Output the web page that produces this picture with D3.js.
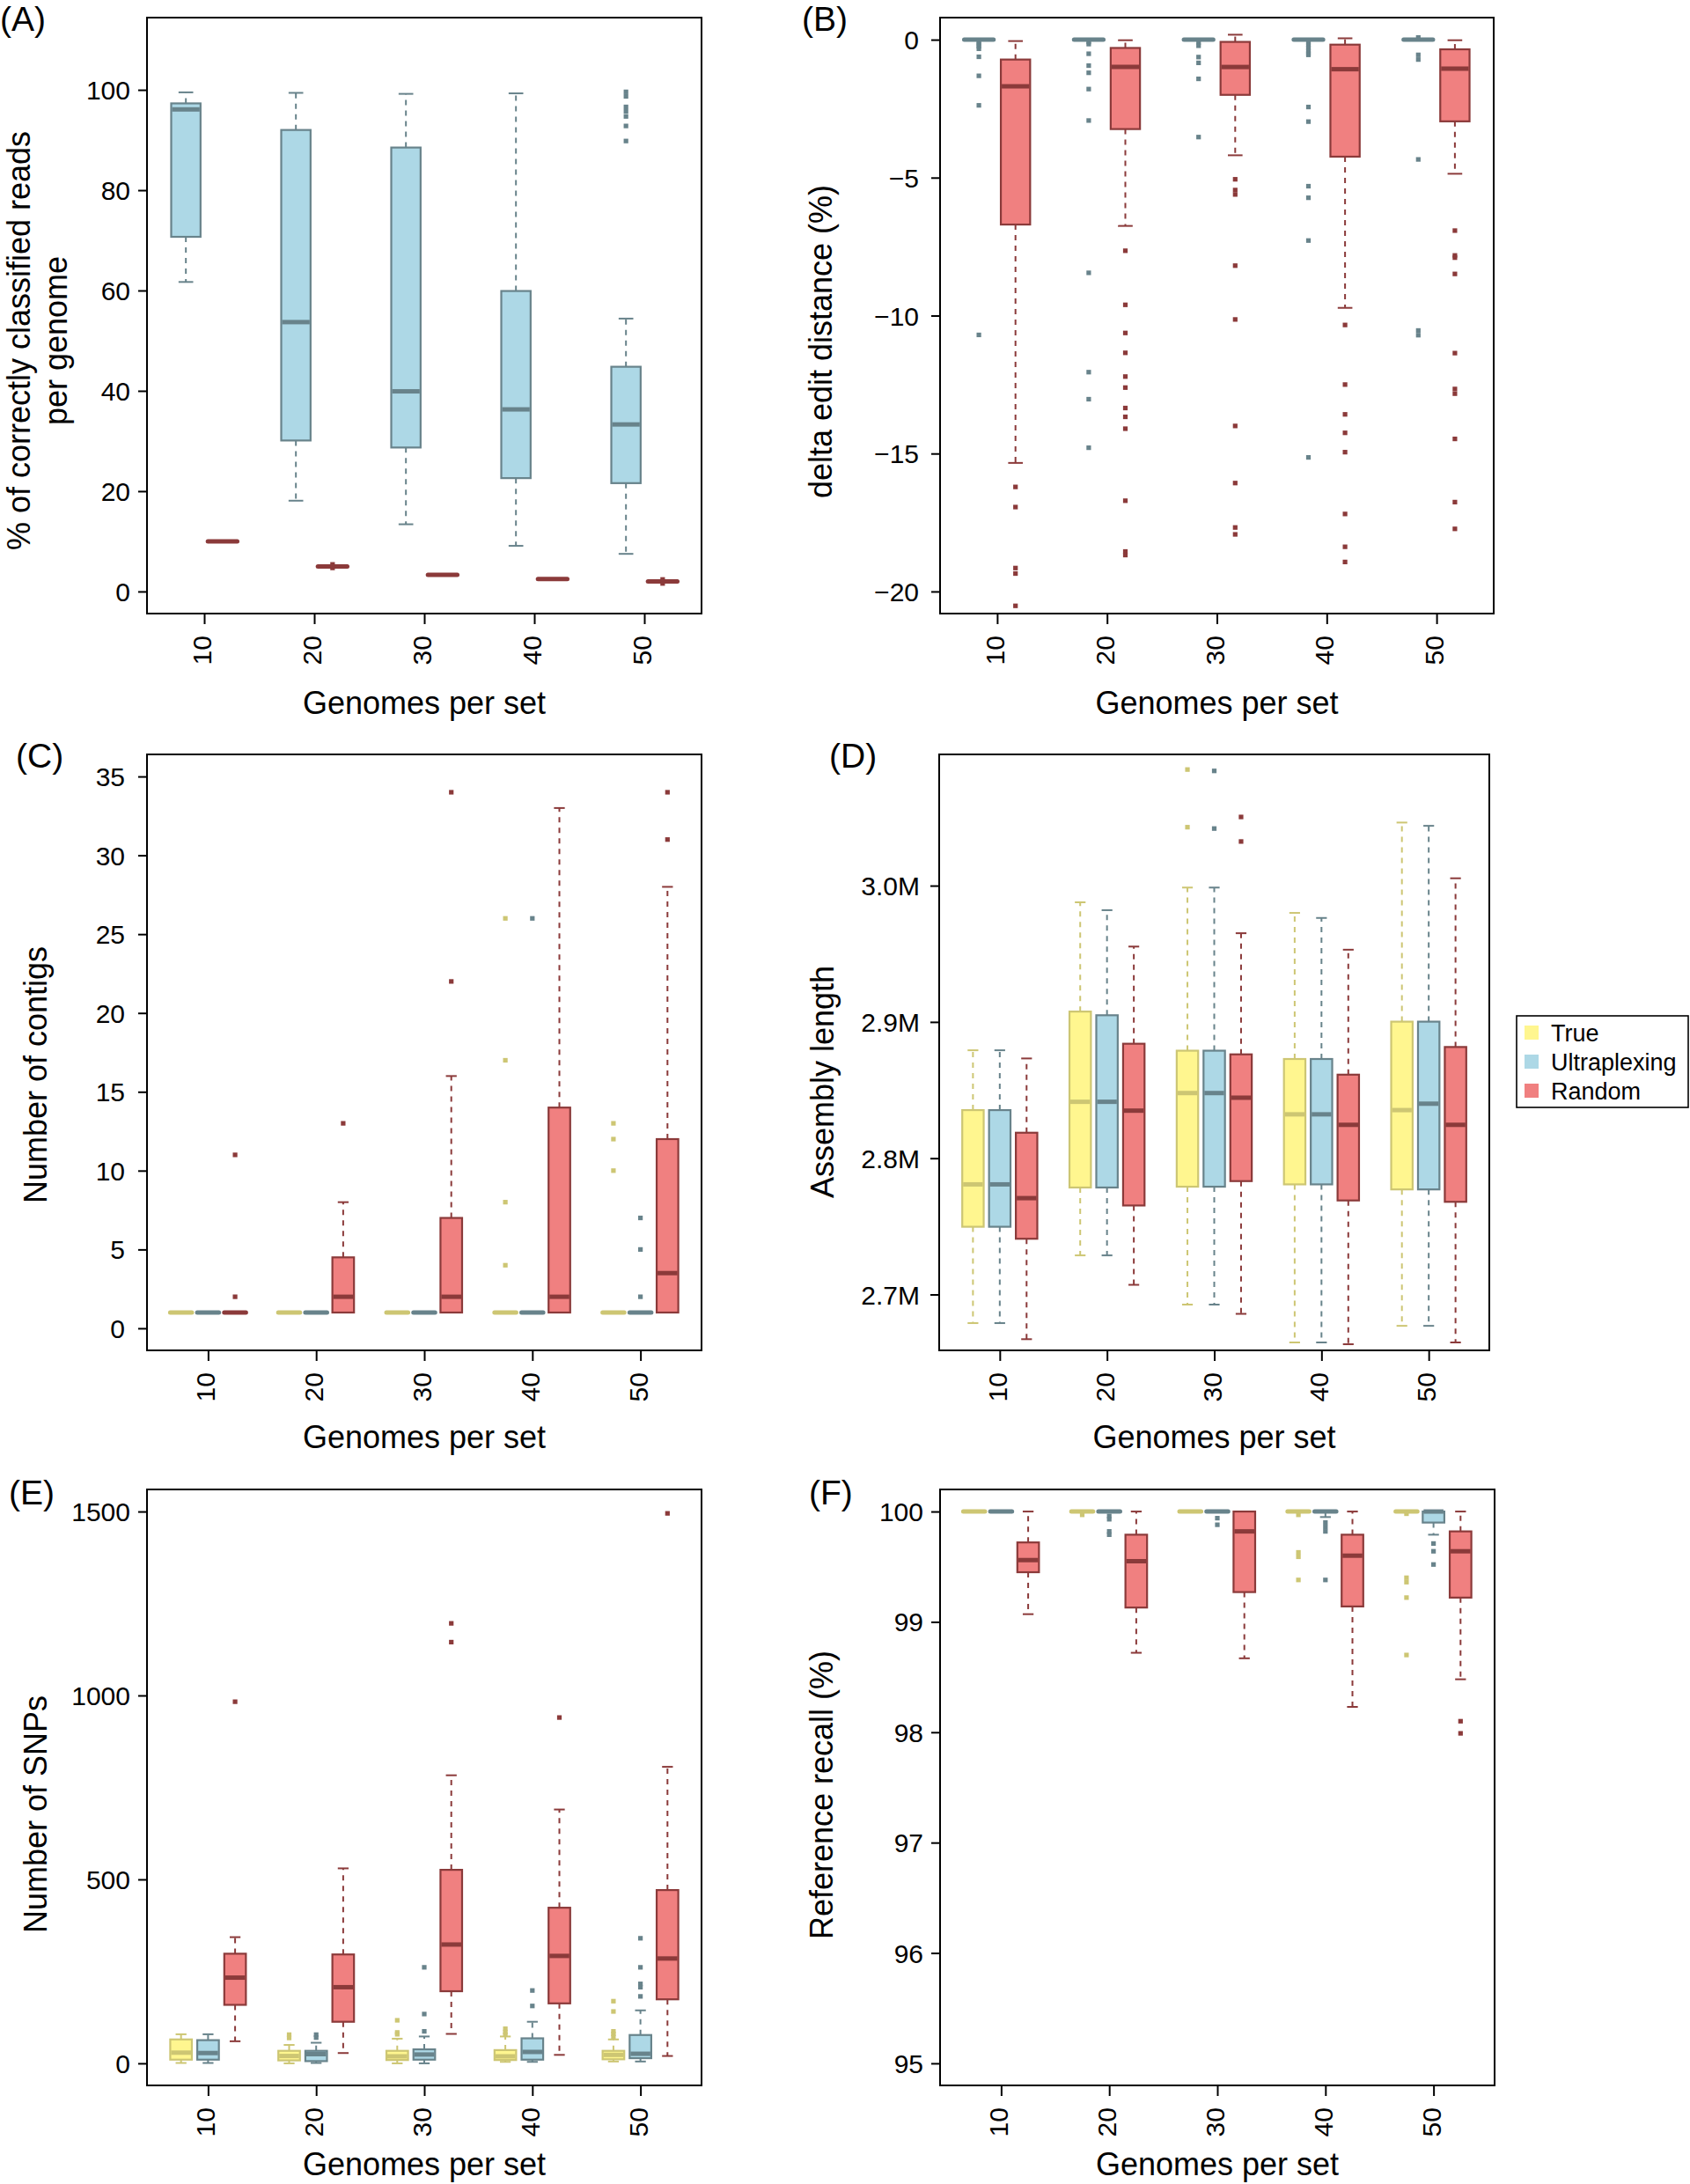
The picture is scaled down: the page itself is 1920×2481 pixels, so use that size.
<!DOCTYPE html>
<html><head><meta charset="utf-8">
<script src="https://cdn.jsdelivr.net/npm/d3@7"></script>
<style>
body{margin:0;background:#fff}
svg{display:block}
text{font-family:"Liberation Sans",Arial,Helvetica,sans-serif;fill:#000}
</style>
</head><body>
<script>
// ---------- DATA ----------
// stats per category: [lower whisker, Q1, median, Q3, upper whisker]
const categories = ["10", "20", "30", "40", "50"];
const groupNames = ["True", "Ultraplexing", "Random"];

// (A) % correctly classified reads
const aUltraStats = [[61.7,70.7,96.1,97.3,99.5],[18.1,30.1,53.7,92.0,99.4],[13.4,28.7,39.9,88.5,99.2],[9.1,22.6,36.3,59.9,99.3],[7.5,21.6,33.3,44.8,54.4]];
const aUltraOut = [[],[],[],[],[99.6,98.7,96.6,95.7,94.7,92.8,89.8]];
const aRandomStats = [[10,10,10,10,10],[5,5,5,5,5],[3.33,3.33,3.33,3.33,3.33],[2.5,2.5,2.5,2.5,2.5],[2,2,2,2,2]];
const aRandomOut = [[],[5.4,4.7],[],[],[2.4,1.6]];

// (B) delta edit distance (%)
const bUltraStats = [[0,0,0,0,0],[0,0,0,0,0],[0,0,0,0,0],[0,0,0,0,0],[0,0,0,0,0]];
const bUltraOut = [
  [-0.08,-0.16,-0.24,-0.33,-0.62,-1.31,-2.38,-10.7],
  [-0.08,-0.16,-0.51,-0.94,-1.2,-1.79,-2.93,-8.45,-12.05,-13.03,-14.79],
  [-0.1,-0.22,-0.63,-0.84,-1.42,-3.53],
  [-0.1,-0.2,-0.3,-0.4,-0.5,-0.55,-2.44,-2.97,-5.31,-5.73,-7.28,-15.14],
  [0.08,-0.55,-0.72,-4.34,-10.54,-10.71]];
const bRandomStats = [[-15.34,-6.70,-1.69,-0.72,-0.05],[-6.75,-3.24,-0.99,-0.30,-0.02],[-4.19,-2.0,-0.99,-0.08,0.18],[-9.72,-4.24,-1.07,-0.18,0.05],[-4.86,-2.96,-1.05,-0.35,-0.02]];
const bRandomOut = [
  [-16.21,-16.94,-19.15,-19.35,-20.52],
  [-7.65,-9.61,-10.63,-11.35,-12.21,-12.61,-13.35,-13.67,-14.1,-16.71,-18.55,-18.68],
  [-5.06,-5.45,-5.61,-8.19,-10.14,-14.0,-16.07,-17.68,-17.93],
  [-10.34,-12.5,-13.58,-14.25,-14.95,-17.19,-18.38,-18.93],
  [-6.92,-7.82,-7.9,-8.49,-11.36,-12.66,-12.83,-14.47,-16.76,-17.73]];

// (C) Number of contigs
const cTrueStats = [[1,1,1,1,1],[1,1,1,1,1],[1,1,1,1,1],[1,1,1,1,1],[1,1,1,1,1]];
const cTrueOut = [[],[],[],[26,17,8,4],[13,12,10]];
const cUltraStats = [[1,1,1,1,1],[1,1,1,1,1],[1,1,1,1,1],[1,1,1,1,1],[1,1,1,1,1]];
const cUltraOut = [[],[],[],[26],[7,5,2]];
const cRandomStats = [[1,1,1,1,1],[1,1,2,4.5,8],[1,1,2,7,16],[1,1,2,14,33],[1,1,3.5,12,28]];
const cRandomOut = [[11,2],[13],[22,34],[],[31,34]];

// (D) Assembly length (millions of bp)
const dTrueStats = [[2.679,2.7497,2.7808,2.8353,2.8792],[2.7287,2.7785,2.8414,2.9076,2.9878],[2.6926,2.7791,2.8478,2.8789,2.9986],[2.6648,2.7808,2.8322,2.8728,2.98],[2.677,2.7771,2.8353,2.9002,3.0463]];
const dTrueOut = [[],[],[3.0852,3.0429],[],[]];
const dUltraStats = [[2.679,2.7497,2.7808,2.8353,2.8792],[2.7287,2.7785,2.8414,2.9049,2.982],[2.6926,2.7791,2.8478,2.8789,2.9986],[2.6648,2.7808,2.8322,2.8728,2.9763],[2.677,2.7771,2.84,2.9002,3.0439]];
const dUltraOut = [[],[],[3.0842,3.0419],[],[]];
const dRandomStats = [[2.6672,2.7409,2.7707,2.8187,2.8732],[2.7071,2.7653,2.8349,2.884,2.9553],[2.6858,2.7832,2.8444,2.8762,2.9651],[2.6635,2.769,2.8245,2.8613,2.953],[2.6648,2.768,2.8245,2.8816,3.0054]];
const dRandomOut = [[],[],[3.0504,3.0324],[],[]];

// (E) Number of SNPs
const eTrueStats = [[1,10,29,65,79],[0,8,20,34,50],[0,9,19,34,67],[4,9,19,36,73],[5,11,23,34,65]];
const eTrueOut = [[],[78,69],[117,84,79],[94,85,78],[169,141,87,80,72]];
const eUltraStats = [[1,10,28,63,79],[1,6,25,34,56],[0,10,24,38,73],[4,10,31,68,113],[5,14,26,77,144]];
const eUltraOut = [[],[78,70],[261,134,87],[198,156],[340,261,216,207,182]];
const eRandomStats = [[60,159,233,298,343],[28,113,207,296,530],[80,196,323,526,783],[23,163,292,423,690],[20,174,285,471,806]];
const eRandomOut = [[983],[],[1196,1145],[940],[1495]];

// (F) Reference recall (%)
const fTrueStats = [[100,100,100,100,100],[100,100,100,100,100],[100,100,100,100,100],[100,100,100,100,100],[100,100,100,100,100]];
const fTrueOut = [[],[99.97],[],[99.97,99.63,99.59,99.38],[99.98,99.4,99.36,99.22,98.7]];
const fUltraStats = [[100,100,100,100,100],[100,100,100,100,100],[100,100,100,100,100],[99.95,100,100,100,100],[99.79,99.9,100,100,100]];
const fUltraOut = [[],[99.96,99.93,99.82,99.79],[99.94,99.88],[99.9,99.86,99.82,99.38],[99.71,99.64,99.52]];
const fRandomStats = [[99.07,99.45,99.56,99.72,100],[98.72,99.13,99.55,99.79,100],[98.67,99.27,99.82,100,100],[98.23,99.14,99.6,99.79,100],[98.48,99.22,99.64,99.82,100]];
const fRandomOut = [[],[],[],[],[98.1,97.99]];

// tick values
const aTicks = [0,20,40,60,80,100];
const bTicks = [0,-5,-10,-15,-20];
const cTicks = [0,5,10,15,20,25,30,35];
const dTicks = [2.7,2.8,2.9,3.0];
const eTicks = [0,500,1000,1500];
const fTicks = [95,96,97,98,99,100];

// ---------- STYLE ----------
const style = {
  "True": {fill:"#FFF68F", stroke:"#CDC673"},
  "Ultraplexing": {fill:"#ADD8E6", stroke:"#68838B"},
  "Random": {fill:"#F08080", stroke:"#8B3A3A"}
};

const panels = [
  {label:"(A)", lx:0, ly:35, box:[167,20,797,697], ylim:[-4.4,114.4], ticks:aTicks, fmt:d3.format("d"), ypad:9,
   series:[["Ultraplexing",aUltraStats,aUltraOut],["Random",aRandomStats,aRandomOut]],
   ytitle:["% of correctly classified reads","per genome"], ytx:[34,76], yty:387, xty:811},
  {label:"(B)", lx:911, ly:35, box:[1068,20,1697,697], ylim:[-20.8,0.8], ticks:bTicks, fmt:d3.format("d"), ypad:14,
   series:[["Ultraplexing",bUltraStats,bUltraOut],["Random",bRandomStats,bRandomOut]],
   ytitle:["delta edit distance (%)"], ytx:[945], yty:388, xty:811},
  {label:"(C)", lx:18, ly:872, box:[167,857,797,1534], ylim:[-1.4,36.4], ticks:cTicks, fmt:d3.format("d"), ypad:15,
   series:[["True",cTrueStats,cTrueOut],["Ultraplexing",cUltraStats,cUltraOut],["Random",cRandomStats,cRandomOut]],
   ytitle:["Number of contigs"], ytx:[53], yty:1221, xty:1645},
  {label:"(D)", lx:942, ly:872, box:[1067,857,1692,1534], ylim:[2.659,3.0963], ticks:dTicks, fmt:d=>d.toFixed(1)+"M", ypad:12,
   series:[["True",dTrueStats,dTrueOut],["Ultraplexing",dUltraStats,dUltraOut],["Random",dRandomStats,dRandomOut]],
   ytitle:["Assembly length"], ytx:[947], yty:1229, xty:1645, legend:true},
  {label:"(E)", lx:10, ly:1709, box:[167,1692,797,2369], ylim:[-60,1560], ticks:eTicks, fmt:d3.format("d"), ypad:9,
   series:[["True",eTrueStats,eTrueOut],["Ultraplexing",eUltraStats,eUltraOut],["Random",eRandomStats,eRandomOut]],
   ytitle:["Number of SNPs"], ytx:[53], yty:2061, xty:2471},
  {label:"(F)", lx:919, ly:1709, box:[1068,1692,1698,2369], ylim:[94.8,100.2], ticks:fTicks, fmt:d3.format("d"), ypad:9,
   series:[["True",fTrueStats,fTrueOut],["Ultraplexing",fUltraStats,fUltraOut],["Random",fRandomStats,fRandomOut]],
   ytitle:["Reference recall (%)"], ytx:[946], yty:2039, xty:2471}
];

const svg = d3.select("body").append("svg").attr("width",1920).attr("height",2481);
svg.append("rect").attr("width",1920).attr("height",2481).attr("fill","#fff");

function drawPanel(p){
  const [x0,y0,x1,y1] = p.box;
  const g = p.series.length;
  const maxPos = categories.length*(g+1)-1;
  const lo = 0.5, hi = maxPos+0.5, ext = (hi-lo)*0.04;
  const x = d3.scaleLinear().domain([lo-ext, hi+ext]).range([x0,x1]);
  const y = d3.scaleLinear().domain(p.ylim).range([y1,y0]);
  const unit = x(1)-x(0);
  const bw = 0.4*unit, sw = 0.2*unit;
  const G = svg.append("g");

  // boxes
  p.series.forEach(([name, stats, outs], j) => {
    const st = style[name];
    stats.forEach((s, i) => {
      const cx = x(i*(g+1)+j+1);
      const [wl,q1,med,q3,wh] = s;
      const bg = G.append("g");
      if (wh !== q3) bg.append("line").attr("x1",cx).attr("x2",cx).attr("y1",y(q3)).attr("y2",y(wh))
        .attr("stroke",st.stroke).attr("stroke-width",2).attr("stroke-dasharray","6,6");
      if (wl !== q1) bg.append("line").attr("x1",cx).attr("x2",cx).attr("y1",y(q1)).attr("y2",y(wl))
        .attr("stroke",st.stroke).attr("stroke-width",2).attr("stroke-dasharray","6,6");
      [wl,wh].forEach(v => bg.append("line").attr("x1",cx-sw).attr("x2",cx+sw).attr("y1",y(v)).attr("y2",y(v))
        .attr("stroke",st.stroke).attr("stroke-width",2));
      if (q3 !== q1) bg.append("rect").attr("x",cx-bw).attr("y",y(q3)).attr("width",2*bw).attr("height",y(q1)-y(q3))
        .attr("fill",st.fill).attr("stroke",st.stroke).attr("stroke-width",2.2);
      bg.append("line").attr("x1",cx-bw+(q3!==q1?1:0)).attr("x2",cx+bw-(q3!==q1?1:0)).attr("y1",y(med)).attr("y2",y(med))
        .attr("stroke",st.stroke).attr("stroke-width",5).attr("stroke-linecap",q3!==q1?"butt":"round");
      outs[i].forEach(v => bg.append("rect").attr("x",cx-2.6).attr("y",y(v)-2.6).attr("width",5.2).attr("height",5.2)
        .attr("fill",st.stroke));
    });
  });

  // frame
  G.append("rect").attr("x",x0).attr("y",y0).attr("width",x1-x0).attr("height",y1-y0)
    .attr("fill","none").attr("stroke","#000").attr("stroke-width",2);

  // y axis
  const ya = G.append("g").attr("transform",`translate(${x0},0)`)
    .call(d3.axisLeft(y).tickValues(p.ticks).tickSize(10).tickPadding(p.ypad).tickFormat(p.fmt));
  ya.select(".domain").remove();
  ya.selectAll("line").attr("stroke","#000").attr("stroke-width",2);
  ya.selectAll("text").attr("font-size",30).attr("fill","#000").attr("dy","0.35em");

  // x axis
  const tickPos = categories.map((c,i)=> i*(g+1)+(g+1)/2);
  const xa = G.append("g").attr("transform",`translate(0,${y1})`)
    .call(d3.axisBottom(x).tickValues(tickPos).tickSize(12).tickFormat((d,i)=>categories[i]));
  xa.select(".domain").remove();
  xa.selectAll("line").attr("stroke","#000").attr("stroke-width",2);
  xa.selectAll("text").attr("font-size",30).attr("fill","#000")
    .attr("transform","rotate(-90)").attr("x",-25).attr("y",7.5).attr("dy",null).attr("text-anchor","end");

  // titles
  G.append("text").attr("x",(x0+x1)/2).attr("y",p.xty).attr("text-anchor","middle")
    .attr("font-size",36).text("Genomes per set");
  p.ytitle.forEach((t,k) => G.append("text").attr("transform",`translate(${p.ytx[k]},${p.yty}) rotate(-90)`)
    .attr("text-anchor","middle").attr("font-size",36).text(t));
  G.append("text").attr("x",p.lx).attr("y",p.ly).attr("font-size",39).text(p.label);

  if (p.legend) {
    const L = svg.append("g");
    L.append("rect").attr("x",1723).attr("y",1154).attr("width",195).attr("height",104)
      .attr("fill","#fff").attr("stroke","#000").attr("stroke-width",1.6);
    groupNames.forEach((n,k) => {
      const cy = 1173 + k*33;
      L.append("rect").attr("x",1732).attr("y",cy-8).attr("width",16).attr("height",16).attr("fill",style[n].fill);
      L.append("text").attr("x",1762).attr("y",cy+10).attr("font-size",27).text(n);
    });
  }
}

panels.forEach(drawPanel);
</script>
</body></html>
